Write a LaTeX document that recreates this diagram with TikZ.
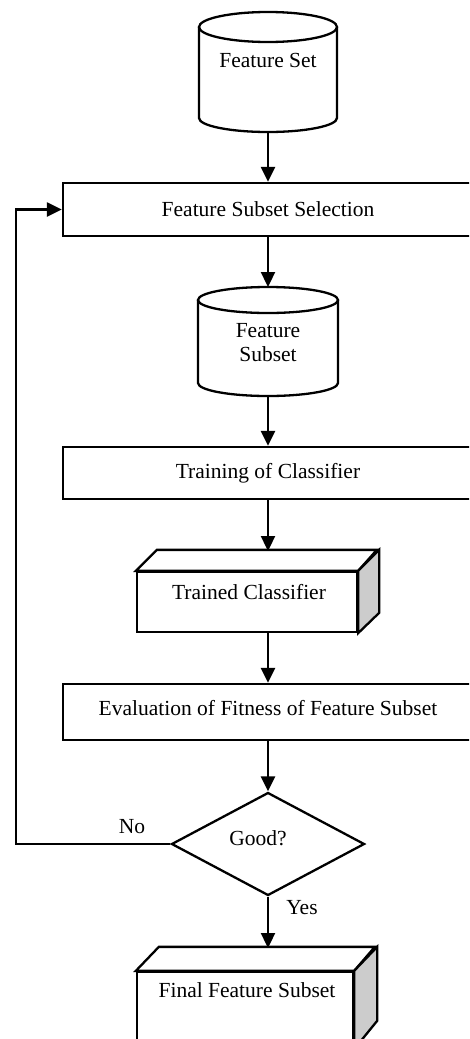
\documentclass[tikz,border=0pt]{standalone}
\usepackage{fontspec}
\setmainfont{Liberation Serif}
\usetikzlibrary{arrows.meta,shapes.geometric}
\begin{document}
\begin{tikzpicture}[x=1pt,y=1pt,
  every node/.style={font=\fontsize{21.5}{24}\selectfont, inner sep=0pt},
  ln/.style={line width=2.3pt},
  arr/.style={ln, -{Triangle[length=15pt,width=14pt]}},
  box/.style={draw, ln, rectangle, minimum width=410pt},
  face/.style={draw, ln, rectangle, fill=white},
  side/.style={draw, ln, fill=black!20, line join=miter},
]
\useasboundingbox (0,0) rectangle (469,-1039);
\clip (0,0) rectangle (469,-1039);

% Feature Set cylinder
\draw[ln, fill=white] (199,-27) -- (199,-118) arc[start angle=180,end angle=360,x radius=69,y radius=14] -- (337,-27);
\draw[ln] (268,-27) ellipse[x radius=69, y radius=15];
\node (fset) at (268,-60) {Feature Set};
\coordinate (fsetbot) at (268,-132);

% Feature Subset Selection
\node[box, minimum height=53pt] (fss) at (268,-209.5) {Feature Subset Selection};

% Feature Subset cylinder
\draw[ln, fill=white] (198,-300) -- (198,-383) arc[start angle=180,end angle=360,x radius=70,y radius=13] -- (338,-300);
\draw[ln] (268,-300) ellipse[x radius=70, y radius=13];
\node[align=center] (fsub) at (268,-343) {Feature\\Subset};
\coordinate (fsubtop) at (268,-287);
\coordinate (fsubbot) at (268,-396);

% Training of Classifier
\node[box, minimum height=52pt] (train) at (268,-473) {Training of Classifier};

% Trained Classifier (3D box)
\node[face, minimum width=220pt, minimum height=60pt] (tc) at (247,-602) {};
\draw[ln, fill=white, line join=miter] (tc.north west) -- ++(21,21) -- ++(220,0) -- (tc.north east) -- cycle;
\draw[side] (tc.north east) -- ++(21,21) -- ++(0,-63) -- (tc.south east) -- cycle;
\node (tclabel) at (249,-592) {Trained Classifier};
\coordinate (tctop) at (268,-551);

% Evaluation
\node[box, minimum height=56pt] (eval) at (268,-712) {};
\node (evallabel) at (268,-708) {Evaluation of Fitness of Feature Subset};

% Decision
\node[draw, ln, diamond, minimum width=193pt, minimum height=103pt] (good) at (268,-844) {};
\node (goodlabel) at (258,-838) {Good?};
\coordinate (fb) at (16,-844);

% Final Feature Subset (3D box)
\node[face, minimum width=216pt, minimum height=76pt] (final) at (245,-1010) {};
\draw[ln, fill=white, line join=miter] (final.north west) -- ++(23,24) -- ++(216,0) -- (final.north east) -- cycle;
\draw[side] (final.north east) -- ++(23,24) -- ++(0,-74) -- (final.south east) -- cycle;
\node (finallabel) at (247,-990) {Final Feature Subset};
\coordinate (finaltop) at (268,-948);

% Labels
\node (no) at (132,-827) {No};
\node (yes) at (302,-908) {Yes};

% Connectors
\draw[arr] (fsetbot) -- (fss.north);
\draw[arr] (fss.south) -- (fsubtop);
\draw[arr] (fsubbot) -- (train.north);
\draw[arr] (train.south) -- (tctop);
\draw[arr] (train.south |- tc.south) -- (eval.north);
\draw[arr] (eval.south) -- (good.north);
\draw[arr] (good.south) -- (finaltop);
\draw[arr] (good.west) -- (fb) |- (fss.west);
\end{tikzpicture}
\end{document}
